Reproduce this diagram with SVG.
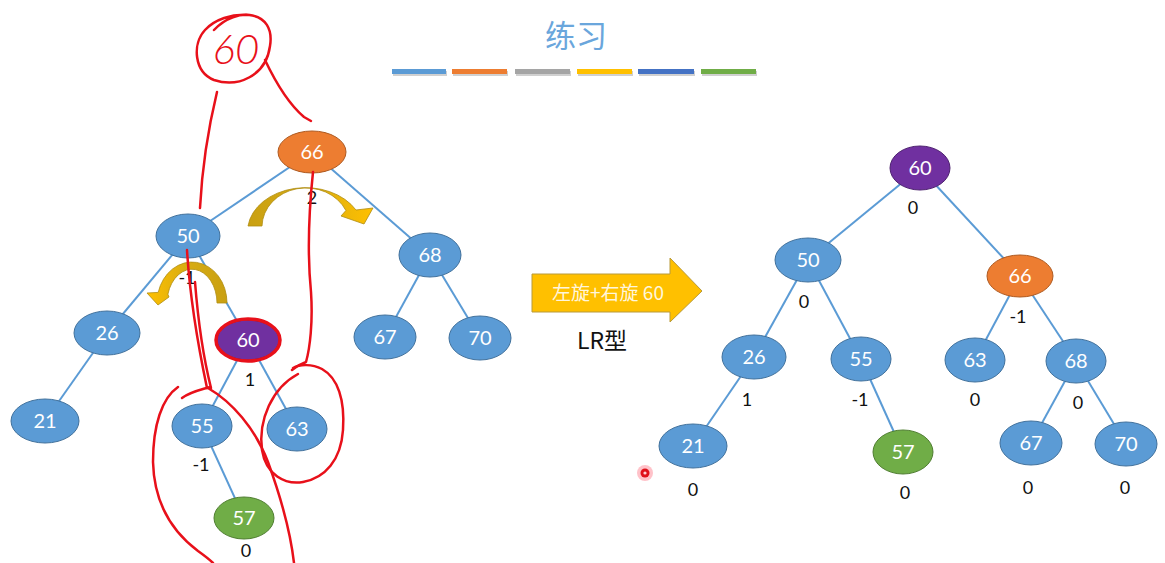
<svg xmlns="http://www.w3.org/2000/svg" width="1165" height="563" viewBox="0 0 1165 563">
<style>
.edge{stroke:#5b9bd5;stroke-width:2;fill:none}
.nb{fill:#5b9bd5;stroke:#41719c;stroke-width:1}
.no{fill:#ed7d31;stroke:#ae5a21;stroke-width:1}
.np{fill:#7030a0;stroke:#4e2270;stroke-width:1}
.ng{fill:#70ad47;stroke:#507e32;stroke-width:1}
.nt{font-family:Lato,"Open Sans",sans-serif;font-size:20px;fill:#ffffff;text-anchor:middle}
.bf{font-family:Lato,"Open Sans",sans-serif;font-size:18px;fill:#111111;text-anchor:middle}
.red{stroke:#e8101a;stroke-width:2.5;fill:none;stroke-linecap:round;stroke-linejoin:round}
.cur{stroke:#b08d10;stroke-width:0.8}
</style>
<defs>
<linearGradient id="g1" x1="0" y1="0" x2="1" y2="0">
<stop offset="0" stop-color="#c9a012"/>
<stop offset="0.5" stop-color="#d8ac12"/>
<stop offset="1" stop-color="#ffc000"/>
</linearGradient>
<linearGradient id="g2" x1="1" y1="0" x2="0" y2="0">
<stop offset="0" stop-color="#c9a012"/>
<stop offset="0.5" stop-color="#d8ac12"/>
<stop offset="1" stop-color="#ffc000"/>
</linearGradient>
</defs>
<rect width="1165" height="563" fill="#ffffff"/>

<g id="title">
<text x="576" y="47" font-family="'Noto Sans CJK SC',sans-serif" font-size="31" fill="#6aa6dc" text-anchor="middle">练习</text>
<g>
<rect x="393" y="71" width="54" height="5" fill="#d0d0d0"/>
<rect x="392" y="69" width="54" height="5" fill="#5b9bd5"/>
<rect x="453" y="71" width="55" height="5" fill="#d0d0d0"/>
<rect x="452" y="69" width="55" height="5" fill="#ed7d31"/>
<rect x="516" y="71" width="55" height="5" fill="#d0d0d0"/>
<rect x="515" y="69" width="55" height="5" fill="#a5a5a5"/>
<rect x="578" y="71" width="55" height="5" fill="#d0d0d0"/>
<rect x="577" y="69" width="55" height="5" fill="#ffc000"/>
<rect x="639" y="71" width="56" height="5" fill="#d0d0d0"/>
<rect x="638" y="69" width="56" height="5" fill="#4472c4"/>
<rect x="702" y="71" width="55" height="5" fill="#d0d0d0"/>
<rect x="701" y="69" width="55" height="5" fill="#70ad47"/>
</g>
</g>

<g id="connectors">
<line class="edge" x1="312" y1="152" x2="188" y2="236"/>
<line class="edge" x1="312" y1="152" x2="430" y2="255"/>
<line class="edge" x1="188" y1="236" x2="107" y2="333"/>
<line class="edge" x1="188" y1="236" x2="248" y2="340"/>
<line class="edge" x1="107" y1="333" x2="45" y2="421"/>
<line class="edge" x1="248" y1="340" x2="202" y2="426"/>
<line class="edge" x1="248" y1="340" x2="297" y2="429"/>
<line class="edge" x1="202" y1="426" x2="244" y2="518"/>
<line class="edge" x1="430" y1="255" x2="385" y2="337"/>
<line class="edge" x1="430" y1="255" x2="480" y2="338"/>
<line class="edge" x1="920" y1="168" x2="808" y2="260"/>
<line class="edge" x1="920" y1="168" x2="1020" y2="276"/>
<line class="edge" x1="808" y1="260" x2="754" y2="357"/>
<line class="edge" x1="808" y1="260" x2="861" y2="359"/>
<line class="edge" x1="754" y1="357" x2="693" y2="446"/>
<line class="edge" x1="861" y1="359" x2="903" y2="452"/>
<line class="edge" x1="1020" y1="276" x2="975" y2="360"/>
<line class="edge" x1="1020" y1="276" x2="1076" y2="361"/>
<line class="edge" x1="1076" y1="361" x2="1031" y2="443"/>
<line class="edge" x1="1076" y1="361" x2="1126" y2="444"/>
</g>

<g id="rotate-arrows">
<path class="cur" fill="url(#g1)" d="M248 226 A58 44 0 0 1 356 210 L373 208 L364 224 L341 216 L345.9 210.5 A44 39 0 0 0 262 226 Z"/>
<path class="cur" fill="url(#g2)" d="M227 303 A35 41 0 0 0 158.2 292.4 L147 293 L158 305 L169 297 L167.9 294.2 A25 34 0 0 1 217 303 Z"/>
</g>

<g id="left-tree">
<g id="L66"><ellipse class="no" cx="312" cy="152" rx="34" ry="21"/><text class="nt" x="312" y="159">66</text></g>
<g id="L50"><ellipse class="nb" cx="188" cy="236" rx="32" ry="22"/><text class="nt" x="188" y="243">50</text></g>
<g id="L68"><ellipse class="nb" cx="430" cy="255" rx="31" ry="22"/><text class="nt" x="430" y="262">68</text></g>
<g id="L26"><ellipse class="nb" cx="107" cy="333" rx="33" ry="22"/><text class="nt" x="107" y="340">26</text></g>
<g id="L60"><ellipse class="np" cx="248" cy="340" rx="31" ry="20"/><text class="nt" x="248" y="347">60</text></g>
<g id="L67"><ellipse class="nb" cx="385" cy="337" rx="31" ry="22"/><text class="nt" x="385" y="344">67</text></g>
<g id="L70"><ellipse class="nb" cx="480" cy="338" rx="31" ry="22"/><text class="nt" x="480" y="345">70</text></g>
<g id="L21"><ellipse class="nb" cx="45" cy="421" rx="34" ry="22"/><text class="nt" x="45" y="428">21</text></g>
<g id="L55"><ellipse class="nb" cx="202" cy="426" rx="30" ry="22"/><text class="nt" x="202" y="433">55</text></g>
<g id="L63"><ellipse class="nb" cx="297" cy="429" rx="30" ry="22"/><text class="nt" x="297" y="436">63</text></g>
<g id="L57"><ellipse class="ng" cx="244" cy="518" rx="30" ry="21"/><text class="nt" x="244" y="525">57</text></g>
</g>

<g id="left-balance">
<text class="bf" x="312" y="204">2</text>
<text class="bf" x="187" y="284">-1</text>
<text class="bf" x="250" y="386">1</text>
<text class="bf" x="201" y="471">-1</text>
<text class="bf" x="246" y="557">0</text>
</g>

<g id="big-arrow">
<path d="M532 274 L670 274 L670 258 L702 291 L670 322 L670 312 L532 312 Z" fill="#ffc000" stroke="#b89a3a" stroke-width="1"/>
<text x="608" y="300" font-family="'Noto Sans CJK SC',sans-serif" font-size="19" fill="#fff6dc" text-anchor="middle">左旋+右旋 60</text>
<text x="602" y="349" font-family="'Noto Sans CJK SC',sans-serif" font-size="23" fill="#111111" text-anchor="middle">LR型</text>
</g>

<g id="right-tree">
<g id="R60"><ellipse class="np" cx="920" cy="168" rx="30" ry="22"/><text class="nt" x="920" y="175">60</text></g>
<g id="R50"><ellipse class="nb" cx="808" cy="260" rx="33" ry="22"/><text class="nt" x="808" y="267">50</text></g>
<g id="R66"><ellipse class="no" cx="1020" cy="276" rx="33" ry="21"/><text class="nt" x="1020" y="283">66</text></g>
<g id="R26"><ellipse class="nb" cx="754" cy="357" rx="32" ry="22"/><text class="nt" x="754" y="364">26</text></g>
<g id="R55"><ellipse class="nb" cx="861" cy="359" rx="30" ry="22"/><text class="nt" x="861" y="366">55</text></g>
<g id="R63"><ellipse class="nb" cx="975" cy="360" rx="30" ry="22"/><text class="nt" x="975" y="367">63</text></g>
<g id="R68"><ellipse class="nb" cx="1076" cy="361" rx="30" ry="22"/><text class="nt" x="1076" y="368">68</text></g>
<g id="R21"><ellipse class="nb" cx="693" cy="446" rx="34" ry="22"/><text class="nt" x="693" y="453">21</text></g>
<g id="R57"><ellipse class="ng" cx="903" cy="452" rx="30" ry="22"/><text class="nt" x="903" y="459">57</text></g>
<g id="R67"><ellipse class="nb" cx="1031" cy="443" rx="31" ry="22"/><text class="nt" x="1031" y="450">67</text></g>
<g id="R70"><ellipse class="nb" cx="1126" cy="444" rx="31" ry="22"/><text class="nt" x="1126" y="451">70</text></g>
</g>

<g id="right-balance">
<text class="bf" x="913" y="214">0</text>
<text class="bf" x="804" y="308">0</text>
<text class="bf" x="1018" y="323">-1</text>
<text class="bf" x="747" y="406">1</text>
<text class="bf" x="860" y="406">-1</text>
<text class="bf" x="975" y="406">0</text>
<text class="bf" x="1078" y="409">0</text>
<text class="bf" x="693" y="496">0</text>
<text class="bf" x="905" y="499">0</text>
<text class="bf" x="1028" y="494">0</text>
<text class="bf" x="1125" y="494">0</text>
</g>

<g id="annotations">
<ellipse cx="248" cy="340" rx="32" ry="21" fill="none" stroke="#e8101a" stroke-width="3.5"/>
<text x="236" y="64" font-family="Lato,'DejaVu Sans',sans-serif" font-style="italic" font-weight="300" font-size="42" fill="#e8101a" text-anchor="middle">60</text>
<path class="red" d="M214 30 C236 6 276 10 270 46 C266 76 238 88 214 80 C194 72 192 44 205 30 C214 20 232 13 250 15"/>
<path class="red" d="M265 60 Q284 100 304 117 L311 121"/>
<path class="red" d="M217 92 Q203 150 200 208"/>
<path class="red" d="M313 172 C308 220 308 262 311 292 C313 322 310 348 306 362 Q298 365 292 370"/>
<path class="red" d="M298 374 C272 388 258 420 262 450 C266 475 285 485 303 482 C325 478 341 460 343 430 C345 400 338 378 322 369 C312 364 300 364 293 368"/>
<path class="red" d="M187 250 C190 300 199 350 207 388"/>
<path class="red" d="M195 282 C198 320 204 360 211 388"/>
<path class="red" d="M182 398 C190 392 200 390 210 387"/>
<path class="red" d="M208 388 C232 402 255 428 268 462 C280 495 290 528 294 563"/>
<path class="red" d="M178 387 C162 398 153 425 153 462 C154 500 170 530 198 551 C205 556 210 560 213 563"/>
<circle cx="645" cy="473" r="8" fill="#ff9aa5" opacity="0.6"/>
<circle cx="645" cy="473" r="4.5" fill="#e0101a"/>
<circle cx="645" cy="473" r="1.6" fill="#ffd0d5"/>
</g>
</svg>
